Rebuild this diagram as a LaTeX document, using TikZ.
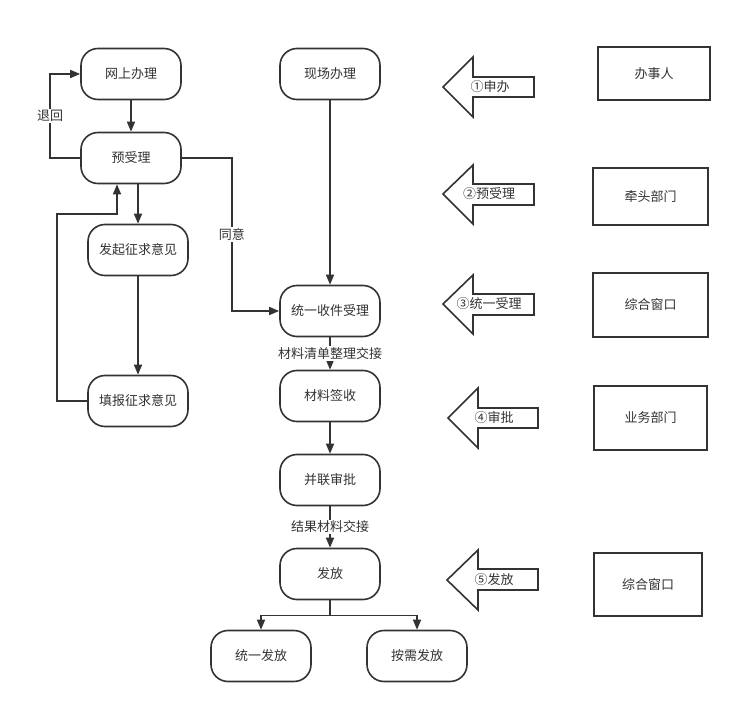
\documentclass[tikz,border=0pt]{standalone}
\usepackage{fontspec}
\setmainfont{Noto Sans CJK SC}
\usetikzlibrary{arrows.meta}
\definecolor{lc}{HTML}{333333}
\begin{document}
\begin{tikzpicture}[x=1pt,y=-1pt,
  every node/.style={text=lc, font=\fontsize{13}{15}\selectfont},
  proc/.style={draw=lc, line width=1.6pt, rounded corners=17pt, minimum width=100pt, minimum height=51pt, inner sep=0pt, fill=white},
  role/.style={draw=lc, line width=1.6pt, inner sep=0pt, fill=white},
  arr/.style={draw=lc, line width=1.6pt, -{Triangle[length=10pt,width=8pt]}},
  lbl/.style={fill=white, inner sep=1pt},
  blk/.style={draw=lc, line width=1.6pt, fill=white, line join=miter}]
\useasboundingbox (0,0) rectangle (742,714);

% process nodes
\node[proc] (wsbl) at (131,74) {网上办理};
\node[proc] (xcbl) at (330,74) {现场办理};
\node[proc] (ysl) at (131,158) {预受理};
\node[proc] (fqyj) at (138,250) {发起征求意见};
\node[proc] (tysl) at (330,311) {统一收件受理};
\node[proc] (tbyj) at (138,401) {填报征求意见};
\node[proc] (clqs) at (330,396) {材料签收};
\node[proc] (blsp) at (330,480) {并联审批};
\node[proc] (ff) at (330,574) {发放};
\node[proc] (tyff) at (261,656) {统一发放};
\node[proc] (axff) at (417,656) {按需发放};

% connectors
\draw[arr] (wsbl.south) -- (ysl.north);
\draw[arr] (ysl.west) -- ++(-30,0) |- node[lbl,pos=0.25]{退回} (wsbl.west);
\draw[arr] ([xshift=7pt]ysl.south) -- (fqyj.north);
\draw[arr] (fqyj.south) -- (tbyj.north);
\coordinate (c1) at (117,214);
\draw[arr] (tbyj.west) -- ++(-30,0) |- (c1) -- ([xshift=-14pt]ysl.south);
\draw[arr] (ysl.east) -- ++(50,0) |- node[lbl,pos=0.25]{同意} (tysl.west);
\draw[arr] (xcbl.south) -- (tysl.north);
\draw[arr] (tysl.south) -- node[lbl]{材料清单整理交接} (clqs.north);
\draw[arr] (clqs.south) -- (blsp.north);
\draw[arr] (blsp.south) -- node[lbl]{结果材料交接} (ff.north);
\draw[arr] (ff.south) -- ++(0,15) -| (tyff.north);
\draw[arr] (ff.south) -- ++(0,15) -| (axff.north);

% block arrows
\draw[blk] (443,87) -- (473,57) -- (473,77) -- (534,77) -- (534,97) -- (473,97) -- (473,117) -- cycle;
\node (a1) at (490,87) {①申办};
\draw[blk] (443,194) -- (473,165) -- (473,184) -- (534,184) -- (534,205) -- (473,205) -- (473,224) -- cycle;
\node (a2) at (489,194) {②预受理};
\draw[blk] (443,304) -- (473,275) -- (473,294) -- (534,294) -- (534,315) -- (473,315) -- (473,334) -- cycle;
\node (a3) at (489,304) {③统一受理};
\draw[blk] (448,418) -- (478,388) -- (478,408) -- (538,408) -- (538,428) -- (478,428) -- (478,448) -- cycle;
\node (a4) at (494,418) {④审批};
\draw[blk] (447,580) -- (478,550) -- (478,569) -- (538,569) -- (538,590) -- (478,590) -- (478,610) -- cycle;
\node (a5) at (494,580) {⑤发放};

% role boxes
\node[role, minimum width=112pt, minimum height=53pt] (r1) at (654,73.5) {办事人};
\node[role, minimum width=115pt, minimum height=57pt] (r2) at (650.5,196.5) {牵头部门};
\node[role, minimum width=115pt, minimum height=64pt] (r3) at (650.5,305) {综合窗口};
\node[role, minimum width=113pt, minimum height=64pt] (r4) at (650.5,418) {业务部门};
\node[role, minimum width=108pt, minimum height=63pt] (r5) at (648,584.5) {综合窗口};
\end{tikzpicture}
\end{document}
